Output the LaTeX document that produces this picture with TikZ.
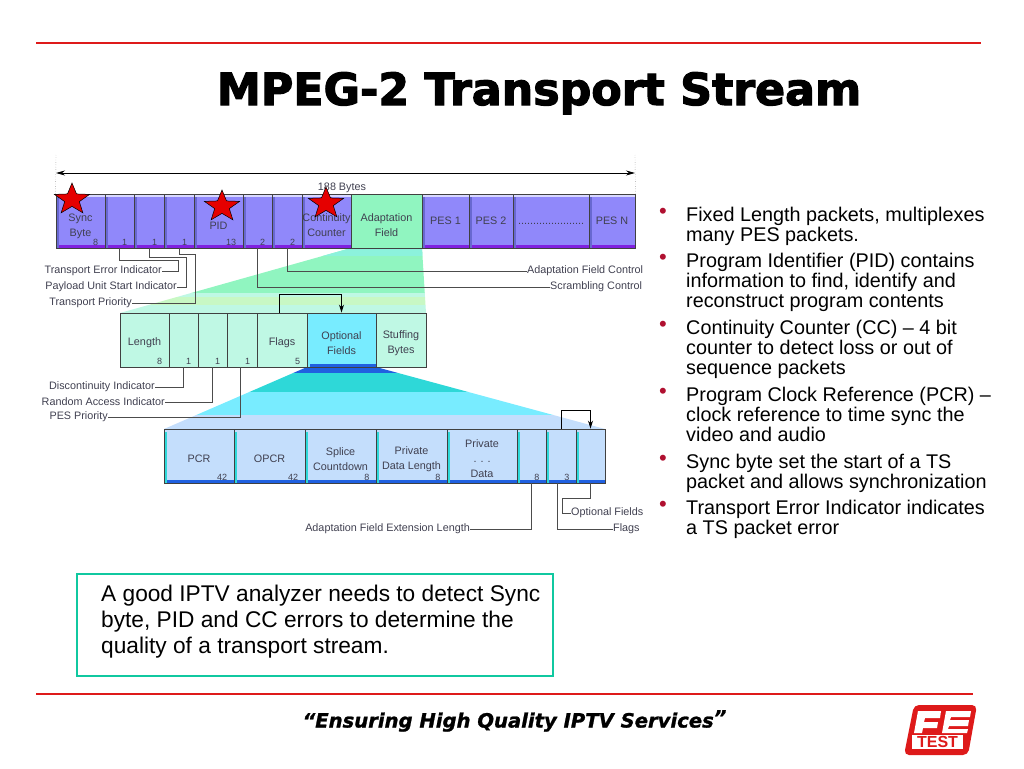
\documentclass[tikz,border=0pt]{standalone}
\usepackage{fontspec}
\setmainfont{Liberation Sans}
\newfontfamily\cellfont{Liberation Sans}
\newfontfamily\titlefont[FakeBold=2.6]{DejaVu Sans Bold}
\newfontfamily\mottofont[FakeBold=1.2]{DejaVu Sans Bold Oblique}
\usetikzlibrary{arrows.meta,positioning}
\usetikzlibrary{shapes.geometric}

\definecolor{rulered}{HTML}{DE1A1A}
\definecolor{boxteal}{HTML}{10C8A0}
\definecolor{tsblue}{HTML}{9088FA}
\definecolor{tsband}{HTML}{8020E0}
\definecolor{tsedge}{HTML}{6868D0}
\definecolor{tstop}{HTML}{D8D8FF}
\definecolor{afgreen}{HTML}{90F5C0}
\definecolor{aftop}{HTML}{8CF2DC}
\definecolor{afyellow}{HTML}{C8F8C4}
\definecolor{lenmint}{HTML}{BFF8E4}
\definecolor{optteal}{HTML}{2ED8D8}
\definecolor{optcyan}{HTML}{78ECFF}
\definecolor{optpale}{HTML}{C4DEFC}
\definecolor{optband}{HTML}{2060E0}
\definecolor{celltext}{HTML}{404050}
\definecolor{dotred}{HTML}{B01030}

\tikzset{
  x=1pt,y=-1pt,
  cell/.style n args={3}{draw=black!75,line width=0.9pt,inner sep=0pt,minimum height=54pt,
    path picture={
      \fill[#1] ([yshift=3pt]path picture bounding box.south west) rectangle (path picture bounding box.south east);
      \fill[#2] (path picture bounding box.south west) rectangle ([xshift=2.5pt]path picture bounding box.north west);
      \fill[#3] (path picture bounding box.north west) rectangle ([yshift=-2.5pt]path picture bounding box.north east);
    }},
  tscell/.style={cell={tsband}{tsedge}{tstop},fill=tsblue},
  lencell/.style={cell={lenmint}{lenmint}{lenmint},fill=lenmint},
  optcell/.style={cell={optband}{optteal}{optpale},fill=optpale},
  celltxt/.style={font=\cellfont\fontsize{10.8}{15}\selectfont,text=celltext,align=center,inner sep=0pt},
  bitlab/.style={font=\cellfont\fontsize{9}{9}\selectfont,text=celltext,anchor=south east,inner sep=0pt,xshift=-7pt,yshift=3pt},
  sidelab/.style={font=\cellfont\fontsize{10.8}{12}\selectfont,text=celltext,inner sep=0pt},
  conn/.style={draw=black!70,line width=0.9pt},
  loopline/.style={draw=black,line width=0.8pt,-{Stealth[length=8pt,width=5pt]}},
  redstar/.style={star,star points=5,star point ratio=2.4,minimum size=33pt,inner sep=0pt,transform shape,xscale=1.12,fill=red!90!black,draw=black,line width=0.5pt},
  bullet/.style={anchor=north west,align=left,inner sep=0pt,font=\fontsize{19.8}{20.4}\selectfont},
}

\begin{document}
\begin{tikzpicture}
  \useasboundingbox (0,0) rectangle (1024,768);

  % rules and title
  \draw[rulered,line width=2pt] (36,43.5) -- (981,43.5);
  \draw[rulered,line width=2pt] (36,694) -- (973,694);
  \node[anchor=base,font=\titlefont\fontsize{44.3}{50}\selectfont] (title) at (539,105) {MPEG-2 Transport Stream};

  % funnels
  \begin{scope}
    \clip (351,248) -- (422,248) -- (426,313) -- (120,313) -- cycle;
    \fill[afgreen] (100,248) rectangle (440,293);
    \fill[aftop] (100,248) rectangle (440,256);
    \fill[lenmint] (100,293) rectangle (440,297);
    \fill[afyellow] (100,297) rectangle (440,305);
    \fill[lenmint] (100,305) rectangle (440,313);
  \end{scope}
  \begin{scope}
    \clip (307,367) -- (376,367) -- (605,429) -- (164,429) -- cycle;
    \fill[optband] (150,367) rectangle (620,373);
    \fill[optteal] (150,373) rectangle (620,392);
    \fill[optcyan] (150,392) rectangle (620,415);
    \fill[optpale] (150,415) rectangle (620,429);
  \end{scope}

  % first row
  \foreach \name/\xa/\xb/\dy/\txt/\bit in {
    sync/56/105/-5/{Sync\\Byte}/8, tei/105/134/0/{}/1, pusi/134/164/0/{}/1, tpri/164/194/0/{}/1,
    pid/194/243/-5/PID/13, scr/243/272/0/{}/2, afc/272/302/0/{}/2,
    cc/302/351/-4/{Continuity\\Counter}/{}, pes1/422/469/0/PES 1/{}, pes2/469/513/0/PES 2/{},
    pesdots/513/589/-3/{......................}/{}, pesn/589/635/0/PES N/{}}
  {
    \node[tscell,minimum width={(\xb-\xa)*1pt}] (\name) at ({(\xa+\xb)/2},221) {};
    \node[celltxt] (\name-txt) at ([yshift=\dy pt]\name.center) {\txt};
    \node[bitlab] (\name-bit) at (\name.south east) {\bit};
  }
  \node[cell={afgreen}{afgreen}{afgreen},fill=afgreen,minimum width=71pt] (adapt) at (386.5,221) {};
  \node[celltxt] (adapt-txt) at ([yshift=-4pt]adapt.center) {Adaptation\\Field};

  % second row
  \foreach \name/\xa/\xb/\txt/\bit in {
    len/120/169/Length/8, disc/169/198/{}/1, rai/198/227/{}/1, espri/227/257/{}/1,
    flags/257/307/Flags/5, stuff/376/426/{Stuffing\\Bytes}/{}}
  {
    \node[lencell,minimum width={(\xb-\xa)*1pt}] (\name) at ({(\xa+\xb)/2},340) {};
    \node[celltxt] (\name-txt) at ([yshift=-3pt]\name.center) {\txt};
    \node[bitlab] (\name-bit) at (\name.south east) {\bit};
  }
  \node[cell={optband}{optcyan}{optcyan},fill=optcyan,minimum width=69pt] (opt) at (341.5,340) {};
  \node[celltxt] (opt-txt) at ([yshift=-3pt]opt.center) {Optional\\Fields};

  % third row
  \foreach \name/\xa/\xb/\txt/\bit in {
    pcr/164/234/PCR/42, opcr/234/305/OPCR/42, splice/305/376/{Splice\\Countdown}/8,
    pdl/376/447/{Private\\Data Length}/8, pdata/447/517/{Private\\. . .\\Data}/{},
    afel/517/546/{}/8, fl3/546/576/{}/3, optf/576/605/{}/{}}
  {
    \node[optcell,minimum width={(\xb-\xa)*1pt}] (\name) at ({(\xa+\xb)/2},456) {};
    \node[celltxt] (\name-txt) at ([yshift=-3pt]\name.center) {\txt};
    \node[bitlab] (\name-bit) at (\name.south east) {\bit};
  }

  % length arrow
  \coordinate (dimleft) at (56,173);
  \coordinate (dimright) at (635,173);
  \draw[black,line width=0.8pt,{Stealth[length=9pt,width=5pt]}-{Stealth[length=9pt,width=5pt]}] (dimleft) -- (dimright);
  \draw[dotted,black!60] (56,155) -- (sync.north west);
  \draw[dotted,black!60] (635,155) -- (pesn.north east);
  \node[celltxt] (total) at (342,188) {188 Bytes};

  % side labels
  \node[sidelab,anchor=east] (teilab) at (162,271) {Transport Error Indicator};
  \node[sidelab,anchor=east] (pusilab) at (177,287) {Payload Unit Start Indicator};
  \node[sidelab,anchor=east] (tprilab) at (132,303) {Transport Priority};
  \node[sidelab,anchor=west] (afclab) at (527,271) {Adaptation Field Control};
  \node[sidelab,anchor=west] (scrlab) at (550,287) {Scrambling Control};
  \node[sidelab,anchor=east] (disclab) at (155,387) {Discontinuity Indicator};
  \node[sidelab,anchor=east] (railab) at (165,402) {Random Access Indicator};
  \node[sidelab,anchor=east] (esprilab) at (108,417) {PES Priority};
  \node[sidelab,anchor=east] (afellab) at (470,529) {Adaptation Field Extension Length};
  \node[sidelab,anchor=west] (optflab) at (571,513) {Optional Fields};
  \node[sidelab,anchor=west] (fl3lab) at (613,529) {Flags};

  % connectors
  \draw[conn] (tei.south) -- ++(0,12) -- ++(59,0) |- (teilab.east);
  \draw[conn] (pusi.south) -- ++(0,9) -- ++(37,0) |- (pusilab.east);
  \draw[conn] (tpri.south) -- ++(0,6) -- ++(16,0) |- (tprilab.east);
  \draw[conn] (afc.south) |- (afclab.west);
  \draw[conn] (scr.south) |- (scrlab.west);
  \draw[conn] (disc.south) |- (disclab.east);
  \draw[conn] (rai.south) |- (railab.east);
  \draw[conn] ([xshift=-2pt]espri.south) |- (esprilab.east);
  \draw[conn] (afel.south) |- (afellab.east);
  \draw[conn] ([xshift=-4pt]fl3.south) |- (fl3lab.west);
  \draw[conn] (optf.south) -- ++(0,15) -- ++(-28,0) |- (optflab.west);
  \draw[loopline] ([xshift=-3pt]flags.north) -- ++(0,-18) -| (opt.north);
  \draw[loopline] (fl3.north) -- ++(0,-18) -| (optf.north);

  % stars
  \node[redstar] (syncstar) at (72,199.5) {};
  \node[redstar] (pidstar) at (222,206.5) {};
  \node[redstar] (ccstar) at (326,203.5) {};

  % bullets
  \foreach \name/\y/\txt in {
    b1/206.5/{Fixed Length packets, multiplexes\\many PES packets.},
    b2/252.5/{Program Identifier (PID) contains\\information to find, identify and\\reconstruct program contents},
    b3/319.5/{Continuity Counter (CC) -- 4 bit\\counter to detect loss or out of\\sequence packets},
    b4/386.5/{Program Clock Reference (PCR) --\\clock reference to time sync the\\video and audio},
    b5/453.5/{Sync byte set the start of a TS\\packet and allows synchronization},
    b6/499.5/{Transport Error Indicator indicates\\a TS packet error}}
  {
    \node[bullet] (\name) at (686,\y) {\txt};
    \node[font=\fontsize{22}{22}\selectfont,text=dotred,inner sep=0pt] (\name-dot) at (663,\y+7) {•};
  }

  % note
  \node[draw=boxteal,line width=2.5pt,minimum width=476pt,minimum height=102pt,inner sep=0pt] (notebox) at (315,625) {};
  \node[anchor=west,align=left,inner sep=0pt,font=\fontsize{22.7}{26}\selectfont] (note) at (101,621.5)
    {A good IPTV analyzer needs to detect Sync\\byte, PID and CC errors to determine the\\quality of a transport stream.};

  % motto
  \node[anchor=base,font=\mottofont\fontsize{19.6}{24}\selectfont] (motto) at (514.5,727.5) {“Ensuring High Quality IPTV Services\raisebox{3pt}{”}};

  % logo
  \fill[rulered,rounded corners=5pt] (914,705) -- (977,705) -- (968,755) -- (904,755) -- cycle;
  \fill[white] (918,711) -- (941,711) -- (940,718) -- (925,718) -- (924,722) -- (938,722) -- (937,728) -- (923,728) -- (922,733) -- (914,733) -- cycle;
  \fill[white] (946,711) -- (971,711) -- (970,717) -- (951,717) -- (950,720) -- (969,720) -- (968,726) -- (949,726) -- (948,729) -- (968,729) -- (967,733) -- (942,733) -- cycle;
  \node[fill=white,text=rulered,inner sep=0pt,font=\bfseries\fontsize{16}{16}\selectfont,minimum width=51pt,minimum height=14pt] (logotest) at (937.5,742) {TEST};
\end{tikzpicture}
\end{document}
